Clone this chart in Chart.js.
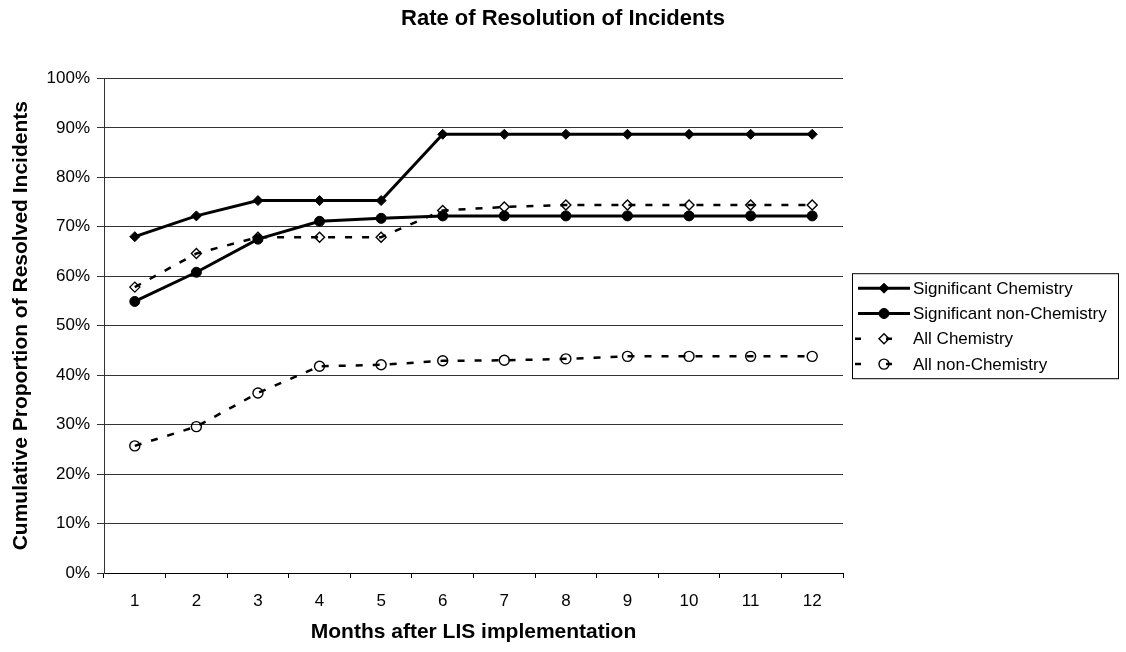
<!DOCTYPE html>
<html>
<head>
<meta charset="utf-8">
<script src="https://cdn.jsdelivr.net/npm/chart.js@4/dist/chart.umd.min.js"></script>
<style>
  html, body { margin: 0; padding: 0; background: #fff; }
  #wrap { width: 1126px; height: 652px; }
</style>
</head>
<body>
<div id="wrap"><canvas id="chart" width="1126" height="652"></canvas></div>
<script>
const months = ["1", "2", "3", "4", "5", "6", "7", "8", "9", "10", "11", "12"];
const seriesNames = ["Significant Chemistry", "Significant non-Chemistry", "All Chemistry", "All non-Chemistry"];

// cumulative proportion resolved, in percent
const sigChem = [68.0, 72.2, 75.3, 75.3, 75.3, 88.7, 88.7, 88.7, 88.7, 88.7, 88.7, 88.7];
const sigNonChem = [54.9, 60.8, 67.5, 71.1, 71.7, 72.2, 72.2, 72.2, 72.2, 72.2, 72.2, 72.2];
const allChem = [57.8, 64.6, 67.9, 67.9, 67.9, 73.3, 74.0, 74.4, 74.4, 74.4, 74.4, 74.4];
const allNonChem = [25.7, 29.6, 36.4, 41.8, 42.1, 42.9, 43.0, 43.3, 43.8, 43.8, 43.8, 43.8];

const yTicks = [0, 10, 20, 30, 40, 50, 60, 70, 80, 90, 100];

const FONT = "'Liberation Sans', Arial, sans-serif";
const dash = [7, 10];

function series(label, data, style, filled, dashed) {
  return {
    label: label,
    data: data,
    borderColor: "#000",
    borderWidth: dashed ? 2.5 : 3,
    borderDash: dashed ? dash : [],
    pointStyle: style,
    pointRadius: 5,
    pointBorderWidth: filled ? 1 : 1.4,
    pointBackgroundColor: filled ? "#000" : "rgba(0,0,0,0)",
    pointBorderColor: "#000",
    tension: 0,
    fill: false
  };
}

// excel style boxed legend with line + marker samples
const boxedLegend = {
  id: "boxedLegend",
  afterDraw(chart) {
    const ctx = chart.ctx;
    const area = chart.chartArea;
    const w = 266, h = 105;
    const left = area.right + 9;
    const top = (area.top + area.bottom) / 2 - h / 2;
    ctx.save();
    ctx.strokeStyle = "#000";
    ctx.lineWidth = 1;
    ctx.strokeRect(left + 0.5, top + 0.5, w, h);
    chart.data.datasets.forEach((ds, i) => {
      const y = top + 15 + i * 25.3;
      ctx.beginPath();
      ctx.lineWidth = ds.borderWidth;
      if (ds.borderDash.length) {
        ctx.setLineDash([6, 25]);
        ctx.moveTo(left + 3, y);
      } else {
        ctx.setLineDash([]);
        ctx.moveTo(left + 6, y);
      }
      ctx.lineTo(left + 58, y);
      ctx.stroke();
      ctx.setLineDash([]);
      ctx.fillStyle = ds.pointBackgroundColor;
      ctx.strokeStyle = "#000";
      ctx.lineWidth = ds.pointBorderWidth;
      Chart.helpers.drawPoint(ctx, { pointStyle: ds.pointStyle, radius: ds.pointRadius, rotation: 0, borderWidth: ds.pointBorderWidth }, left + 32, y);
      ctx.fillStyle = "#000";
      ctx.font = "17px " + FONT;
      ctx.textBaseline = "middle";
      ctx.textAlign = "left";
      ctx.fillText(ds.label, left + 61, y + 1);
    });
    ctx.restore();
  }
};

new Chart(document.getElementById("chart"), {
  type: "line",
  data: {
    labels: months,
    datasets: [
      series(seriesNames[0], sigChem, "rectRot", true, false),
      series(seriesNames[1], sigNonChem, "circle", true, false),
      series(seriesNames[2], allChem, "rectRot", false, true),
      series(seriesNames[3], allNonChem, "circle", false, true)
    ]
  },
  options: {
    responsive: false,
    animation: false,
    layout: { padding: 0 },
    plugins: {
      legend: { display: false },
      tooltip: { enabled: false },
      title: {
        display: true,
        text: "Rate of Resolution of Incidents",
        color: "#000",
        font: { family: FONT, size: 22, weight: "bold" },
        padding: { top: 6, bottom: 46 }
      }
    },
    scales: {
      x: {
        offset: true,
        afterFit: (scale) => { scale.height = 79; },
        grid: { offset: true, drawOnChartArea: false, drawTicks: true, tickLength: 5, color: "#000" },
        border: { display: true, color: "#000", width: 1 },
        ticks: { color: "#000", font: { family: FONT, size: 17 }, padding: 13 },
        title: {
          display: true,
          text: "Months after LIS implementation",
          color: "#000",
          font: { family: FONT, size: 21, weight: "bold" },
          padding: { top: 0, bottom: 7 }
        }
      },
      y: {
        min: 0,
        max: 100,
        afterFit: (scale) => { scale.width = 104; },
        afterBuildTicks: (scale) => { scale.ticks = yTicks.map(v => ({ value: v })); },
        grid: { color: "#333", tickLength: 7, lineWidth: 1 },
        border: { display: true, color: "#333", width: 1 },
        ticks: {
          color: "#000",
          font: { family: FONT, size: 17 },
          padding: 7,
          callback: (v) => v + "%"
        },
        title: {
          display: true,
          text: "Cumulative Proportion of Resolved Incidents",
          color: "#000",
          font: { family: FONT, size: 21, weight: "bold" },
          padding: { top: 9, bottom: 0 }
        }
      },
      // empty right-hand box that reserves room for the legend
      legendSpace: {
        type: "linear",
        position: "right",
        display: true,
        afterFit: (scale) => { scale.width = 283; },
        grid: { display: false, drawTicks: false },
        border: { display: false },
        ticks: { display: false },
        title: { display: false }
      }
    }
  },
  plugins: [boxedLegend]
});
</script>
</body>
</html>
